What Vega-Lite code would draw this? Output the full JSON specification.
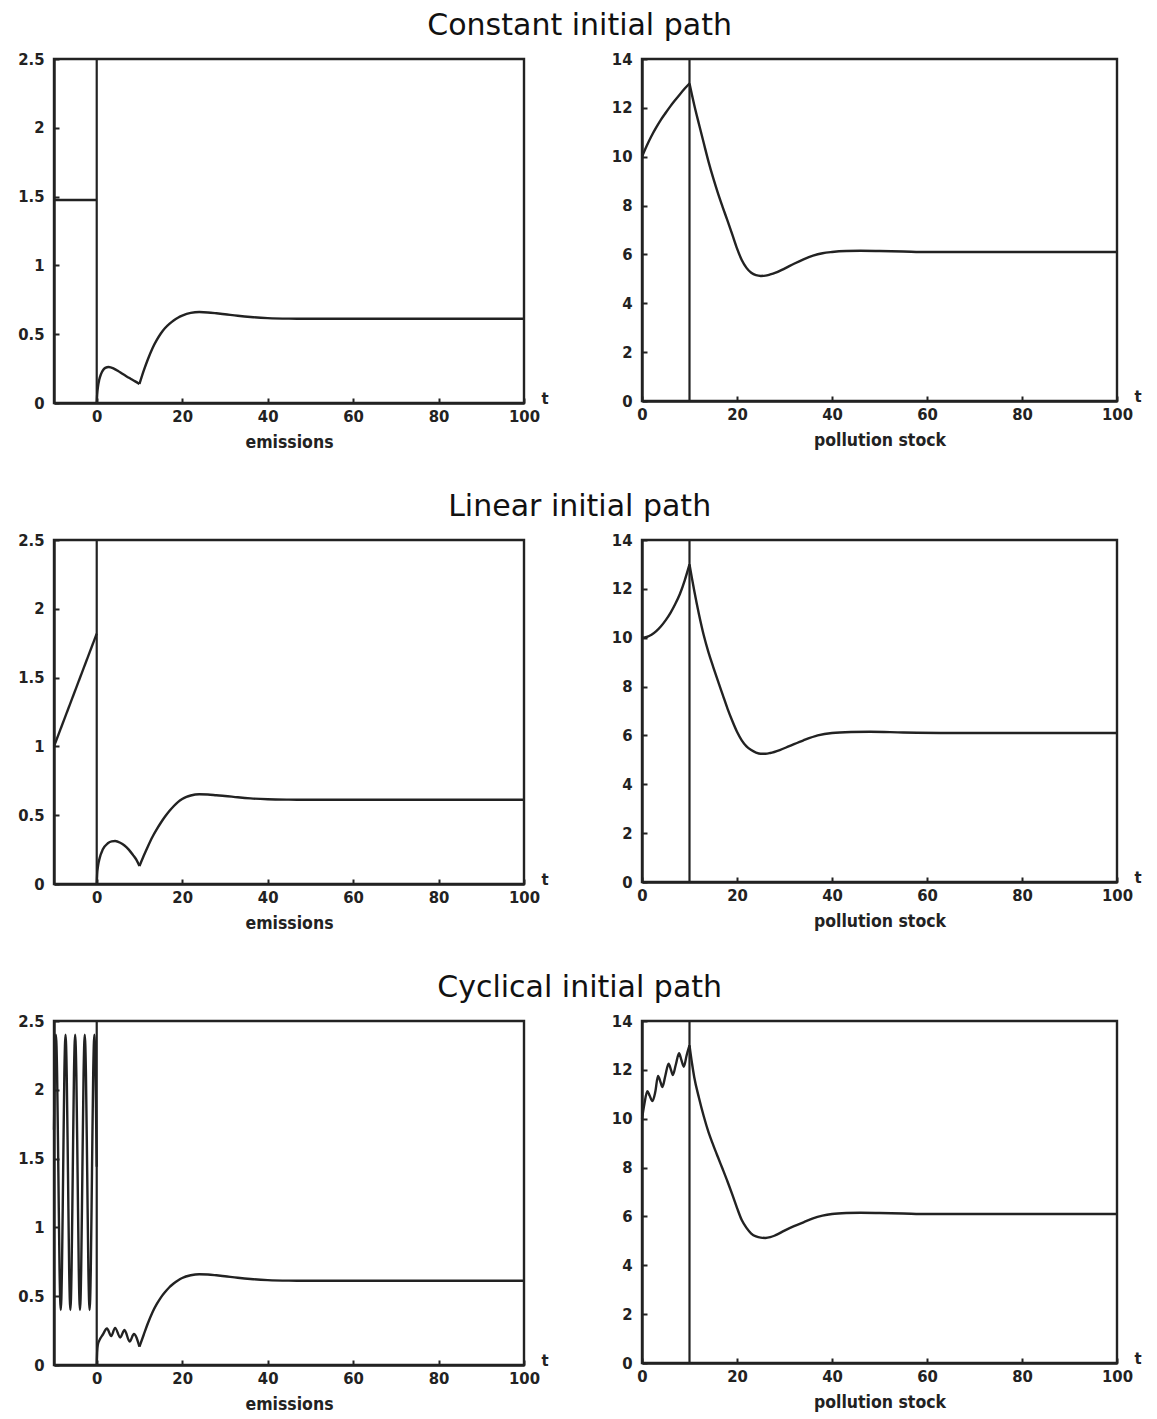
{
  "$schema": "https://vega.github.io/schema/vega-lite/v6.json",
  "background": "white",
  "padding": {"left": 16, "top": 10, "right": 5, "bottom": 5},
  "spacing": 38,
  "config": {
    "view": {"stroke": "#222", "strokeWidth": 2.4},
    "title": {"font": "DejaVu Sans", "fontSize": 30, "fontWeight": "normal", "color": "#111", "anchor": "middle", "offset": 9},
    "axis": {"grid": false, "domainColor": "#222", "domainWidth": 2.4, "tickColor": "#222", "tickWidth": 2, "tickSize": -5,
      "labelFont": "DejaVu Sans Condensed", "labelFontWeight": "bold", "labelFontSize": 16.5, "labelColor": "#222",
      "titleFont": "DejaVu Sans Condensed", "titleFontWeight": "bold", "titleFontSize": 17.5, "titleColor": "#222",
      "titlePadding": 9, "labelFlush": false, "labelOverlap": false, "labelBound": false},
    "axisX": {"labelPadding": 10},
    "axisY": {"labelPadding": 15}
  },
  "datasets": {
    "em1": [
      {"t": -10, "v": 1.475, "s": "A"}, {"t": 0, "v": 1.475, "s": "A"},
      {"t": 0, "v": 0, "s": "B"}, {"t": 0.1, "v": 0.06, "s": "B"}, {"t": 0.3, "v": 0.12, "s": "B"}, {"t": 0.6, "v": 0.17, "s": "B"}, {"t": 1, "v": 0.21, "s": "B"}, {"t": 1.5, "v": 0.24, "s": "B"}, {"t": 2, "v": 0.255, "s": "B"}, {"t": 2.8, "v": 0.262, "s": "B"}, {"t": 4, "v": 0.25, "s": "B"}, {"t": 5, "v": 0.232, "s": "B"}, {"t": 6, "v": 0.212, "s": "B"}, {"t": 7, "v": 0.193, "s": "B"}, {"t": 8, "v": 0.175, "s": "B"}, {"t": 9, "v": 0.157, "s": "B"}, {"t": 10, "v": 0.138, "s": "B"},
      {"t": 10, "v": 0.138, "s": "C"}, {"t": 11, "v": 0.235, "s": "C"}, {"t": 12, "v": 0.32, "s": "C"}, {"t": 13, "v": 0.395, "s": "C"}, {"t": 14, "v": 0.455, "s": "C"}, {"t": 15, "v": 0.505, "s": "C"}, {"t": 16, "v": 0.545, "s": "C"}, {"t": 17, "v": 0.575, "s": "C"}, {"t": 18, "v": 0.6, "s": "C"}, {"t": 19, "v": 0.62, "s": "C"}, {"t": 20, "v": 0.635, "s": "C"}, {"t": 22, "v": 0.655, "s": "C"}, {"t": 24, "v": 0.661, "s": "C"}, {"t": 26, "v": 0.658, "s": "C"}, {"t": 28, "v": 0.652, "s": "C"}, {"t": 30, "v": 0.645, "s": "C"}, {"t": 33, "v": 0.634, "s": "C"}, {"t": 36, "v": 0.625, "s": "C"}, {"t": 40, "v": 0.617, "s": "C"}, {"t": 45, "v": 0.613, "s": "C"}, {"t": 50, "v": 0.612, "s": "C"}, {"t": 60, "v": 0.612, "s": "C"}, {"t": 80, "v": 0.612, "s": "C"}, {"t": 100, "v": 0.612, "s": "C"}
    ],
    "em2": [
      {"t": -10, "v": 1.0, "s": "A"}, {"t": 0, "v": 1.82, "s": "A"},
      {"t": 0, "v": 0, "s": "B"}, {"t": 0.1, "v": 0.07, "s": "B"}, {"t": 0.3, "v": 0.13, "s": "B"}, {"t": 0.7, "v": 0.19, "s": "B"}, {"t": 1.4, "v": 0.25, "s": "B"}, {"t": 2.6, "v": 0.296, "s": "B"}, {"t": 3.5, "v": 0.31, "s": "B"}, {"t": 4.3, "v": 0.312, "s": "B"}, {"t": 5.5, "v": 0.3, "s": "B"}, {"t": 6.5, "v": 0.28, "s": "B"}, {"t": 7.5, "v": 0.25, "s": "B"}, {"t": 8.5, "v": 0.21, "s": "B"}, {"t": 9.3, "v": 0.175, "s": "B"}, {"t": 10, "v": 0.13, "s": "B"},
      {"t": 10, "v": 0.13, "s": "C"}, {"t": 11, "v": 0.205, "s": "C"}, {"t": 12, "v": 0.275, "s": "C"}, {"t": 13, "v": 0.34, "s": "C"}, {"t": 14, "v": 0.395, "s": "C"}, {"t": 15, "v": 0.445, "s": "C"}, {"t": 16, "v": 0.49, "s": "C"}, {"t": 17, "v": 0.53, "s": "C"}, {"t": 18, "v": 0.565, "s": "C"}, {"t": 19, "v": 0.595, "s": "C"}, {"t": 20, "v": 0.617, "s": "C"}, {"t": 21, "v": 0.633, "s": "C"}, {"t": 22, "v": 0.643, "s": "C"}, {"t": 24, "v": 0.652, "s": "C"}, {"t": 26, "v": 0.65, "s": "C"}, {"t": 28, "v": 0.645, "s": "C"}, {"t": 30, "v": 0.64, "s": "C"}, {"t": 33, "v": 0.63, "s": "C"}, {"t": 36, "v": 0.622, "s": "C"}, {"t": 40, "v": 0.616, "s": "C"}, {"t": 45, "v": 0.613, "s": "C"}, {"t": 50, "v": 0.612, "s": "C"}, {"t": 100, "v": 0.612, "s": "C"}
    ],
    "em3": [
      {"t": -10, "v": 1.71, "s": "A"}, {"t": -9.83, "v": 2.11, "s": "A"}, {"t": -9.55, "v": 2.4, "s": "A"}, {"t": -9.27, "v": 2.11, "s": "A"}, {"t": -8.98, "v": 1.4, "s": "A"}, {"t": -8.7, "v": 0.69, "s": "A"}, {"t": -8.42, "v": 0.4, "s": "A"}, {"t": -8.14, "v": 0.69, "s": "A"}, {"t": -7.86, "v": 1.4, "s": "A"}, {"t": -7.58, "v": 2.11, "s": "A"}, {"t": -7.3, "v": 2.4, "s": "A"}, {"t": -7.02, "v": 2.11, "s": "A"}, {"t": -6.73, "v": 1.4, "s": "A"}, {"t": -6.45, "v": 0.69, "s": "A"}, {"t": -6.17, "v": 0.4, "s": "A"}, {"t": -5.89, "v": 0.69, "s": "A"}, {"t": -5.61, "v": 1.4, "s": "A"}, {"t": -5.33, "v": 2.11, "s": "A"}, {"t": -5.05, "v": 2.4, "s": "A"}, {"t": -4.77, "v": 2.11, "s": "A"}, {"t": -4.48, "v": 1.4, "s": "A"}, {"t": -4.2, "v": 0.69, "s": "A"}, {"t": -3.92, "v": 0.4, "s": "A"}, {"t": -3.64, "v": 0.69, "s": "A"}, {"t": -3.36, "v": 1.4, "s": "A"}, {"t": -3.08, "v": 2.11, "s": "A"}, {"t": -2.8, "v": 2.4, "s": "A"}, {"t": -2.52, "v": 2.11, "s": "A"}, {"t": -2.23, "v": 1.4, "s": "A"}, {"t": -1.95, "v": 0.69, "s": "A"}, {"t": -1.67, "v": 0.4, "s": "A"}, {"t": -1.39, "v": 0.69, "s": "A"}, {"t": -1.11, "v": 1.4, "s": "A"}, {"t": -0.83, "v": 2.11, "s": "A"}, {"t": -0.55, "v": 2.4, "s": "A"}, {"t": -0.27, "v": 2.11, "s": "A"}, {"t": 0, "v": 1.44, "s": "A"},
      {"t": 0, "v": 0, "s": "B"}, {"t": 0.1, "v": 0.09, "s": "B"}, {"t": 0.25, "v": 0.145, "s": "B"}, {"t": 0.8, "v": 0.19, "s": "B"}, {"t": 1.4, "v": 0.22, "s": "B"}, {"t": 2.4, "v": 0.265, "s": "B"}, {"t": 3.4, "v": 0.21, "s": "B"}, {"t": 4.3, "v": 0.27, "s": "B"}, {"t": 5.5, "v": 0.2, "s": "B"}, {"t": 6.5, "v": 0.255, "s": "B"}, {"t": 7.7, "v": 0.17, "s": "B"}, {"t": 8.7, "v": 0.225, "s": "B"}, {"t": 10, "v": 0.133, "s": "B"},
      {"t": 10, "v": 0.133, "s": "C"}, {"t": 11, "v": 0.22, "s": "C"}, {"t": 12, "v": 0.305, "s": "C"}, {"t": 13, "v": 0.38, "s": "C"}, {"t": 14, "v": 0.44, "s": "C"}, {"t": 15, "v": 0.49, "s": "C"}, {"t": 16, "v": 0.53, "s": "C"}, {"t": 17, "v": 0.565, "s": "C"}, {"t": 18, "v": 0.592, "s": "C"}, {"t": 19, "v": 0.614, "s": "C"}, {"t": 20, "v": 0.632, "s": "C"}, {"t": 22, "v": 0.652, "s": "C"}, {"t": 24, "v": 0.66, "s": "C"}, {"t": 26, "v": 0.658, "s": "C"}, {"t": 28, "v": 0.652, "s": "C"}, {"t": 30, "v": 0.645, "s": "C"}, {"t": 33, "v": 0.634, "s": "C"}, {"t": 36, "v": 0.625, "s": "C"}, {"t": 40, "v": 0.617, "s": "C"}, {"t": 45, "v": 0.613, "s": "C"}, {"t": 50, "v": 0.612, "s": "C"}, {"t": 100, "v": 0.612, "s": "C"}
    ],
    "po1": [
      {"t": 0, "v": 10.0, "s": "B"}, {"t": 1, "v": 10.45, "s": "B"}, {"t": 2, "v": 10.85, "s": "B"}, {"t": 3, "v": 11.2, "s": "B"}, {"t": 4, "v": 11.52, "s": "B"}, {"t": 5, "v": 11.8, "s": "B"}, {"t": 6, "v": 12.07, "s": "B"}, {"t": 7, "v": 12.32, "s": "B"}, {"t": 8, "v": 12.56, "s": "B"}, {"t": 9, "v": 12.79, "s": "B"}, {"t": 10, "v": 13.0, "s": "B"},
      {"t": 10, "v": 13.0, "s": "C"}, {"t": 10.5, "v": 12.55, "s": "C"}, {"t": 11, "v": 12.12, "s": "C"}, {"t": 12, "v": 11.33, "s": "C"}, {"t": 13, "v": 10.56, "s": "C"}, {"t": 14, "v": 9.8, "s": "C"}, {"t": 15, "v": 9.12, "s": "C"}, {"t": 16, "v": 8.5, "s": "C"}, {"t": 17, "v": 7.93, "s": "C"}, {"t": 18, "v": 7.38, "s": "C"}, {"t": 19, "v": 6.82, "s": "C"}, {"t": 20, "v": 6.25, "s": "C"}, {"t": 21, "v": 5.77, "s": "C"}, {"t": 22, "v": 5.45, "s": "C"}, {"t": 23, "v": 5.25, "s": "C"}, {"t": 24, "v": 5.15, "s": "C"}, {"t": 25, "v": 5.12, "s": "C"}, {"t": 26, "v": 5.13, "s": "C"}, {"t": 27, "v": 5.18, "s": "C"}, {"t": 28, "v": 5.24, "s": "C"}, {"t": 30, "v": 5.42, "s": "C"}, {"t": 32, "v": 5.62, "s": "C"}, {"t": 34, "v": 5.8, "s": "C"}, {"t": 36, "v": 5.95, "s": "C"}, {"t": 38, "v": 6.05, "s": "C"}, {"t": 40, "v": 6.1, "s": "C"}, {"t": 43, "v": 6.14, "s": "C"}, {"t": 46, "v": 6.15, "s": "C"}, {"t": 50, "v": 6.14, "s": "C"}, {"t": 55, "v": 6.12, "s": "C"}, {"t": 60, "v": 6.1, "s": "C"}, {"t": 70, "v": 6.1, "s": "C"}, {"t": 100, "v": 6.1, "s": "C"}
    ],
    "po2": [
      {"t": 0, "v": 10.0, "s": "B"}, {"t": 1, "v": 10.03, "s": "B"}, {"t": 2, "v": 10.12, "s": "B"}, {"t": 3, "v": 10.27, "s": "B"}, {"t": 4, "v": 10.47, "s": "B"}, {"t": 5, "v": 10.72, "s": "B"}, {"t": 6, "v": 11.02, "s": "B"}, {"t": 7, "v": 11.38, "s": "B"}, {"t": 8, "v": 11.8, "s": "B"}, {"t": 9, "v": 12.35, "s": "B"}, {"t": 10, "v": 13.0, "s": "B"},
      {"t": 10, "v": 13.0, "s": "C"}, {"t": 10.5, "v": 12.45, "s": "C"}, {"t": 11, "v": 11.92, "s": "C"}, {"t": 12, "v": 10.95, "s": "C"}, {"t": 13, "v": 10.1, "s": "C"}, {"t": 14, "v": 9.4, "s": "C"}, {"t": 15, "v": 8.8, "s": "C"}, {"t": 16, "v": 8.22, "s": "C"}, {"t": 17, "v": 7.66, "s": "C"}, {"t": 18, "v": 7.1, "s": "C"}, {"t": 19, "v": 6.6, "s": "C"}, {"t": 20, "v": 6.15, "s": "C"}, {"t": 21, "v": 5.8, "s": "C"}, {"t": 22, "v": 5.55, "s": "C"}, {"t": 23, "v": 5.4, "s": "C"}, {"t": 24, "v": 5.3, "s": "C"}, {"t": 25, "v": 5.25, "s": "C"}, {"t": 26, "v": 5.25, "s": "C"}, {"t": 27, "v": 5.28, "s": "C"}, {"t": 29, "v": 5.4, "s": "C"}, {"t": 31, "v": 5.56, "s": "C"}, {"t": 34, "v": 5.8, "s": "C"}, {"t": 37, "v": 6.0, "s": "C"}, {"t": 40, "v": 6.1, "s": "C"}, {"t": 44, "v": 6.14, "s": "C"}, {"t": 48, "v": 6.15, "s": "C"}, {"t": 55, "v": 6.12, "s": "C"}, {"t": 65, "v": 6.1, "s": "C"}, {"t": 100, "v": 6.1, "s": "C"}
    ],
    "po3": [
      {"t": 0, "v": 10.0, "s": "B"}, {"t": 0.5, "v": 10.6, "s": "B"}, {"t": 1.12, "v": 11.13, "s": "B"}, {"t": 1.6, "v": 10.95, "s": "B"}, {"t": 2.2, "v": 10.72, "s": "B"}, {"t": 2.8, "v": 11.1, "s": "B"}, {"t": 3.37, "v": 11.75, "s": "B"}, {"t": 3.9, "v": 11.5, "s": "B"}, {"t": 4.3, "v": 11.3, "s": "B"}, {"t": 4.9, "v": 11.75, "s": "B"}, {"t": 5.6, "v": 12.25, "s": "B"}, {"t": 6.1, "v": 12.0, "s": "B"}, {"t": 6.5, "v": 11.79, "s": "B"}, {"t": 7.1, "v": 12.2, "s": "B"}, {"t": 7.8, "v": 12.68, "s": "B"}, {"t": 8.3, "v": 12.4, "s": "B"}, {"t": 8.8, "v": 12.13, "s": "B"}, {"t": 9.4, "v": 12.6, "s": "B"}, {"t": 10, "v": 13.0, "s": "B"},
      {"t": 10, "v": 13.0, "s": "C"}, {"t": 10.5, "v": 12.3, "s": "C"}, {"t": 11, "v": 11.7, "s": "C"}, {"t": 12, "v": 10.85, "s": "C"}, {"t": 13, "v": 10.1, "s": "C"}, {"t": 14, "v": 9.45, "s": "C"}, {"t": 15, "v": 8.92, "s": "C"}, {"t": 16, "v": 8.42, "s": "C"}, {"t": 17, "v": 7.93, "s": "C"}, {"t": 18, "v": 7.43, "s": "C"}, {"t": 19, "v": 6.9, "s": "C"}, {"t": 20, "v": 6.35, "s": "C"}, {"t": 21, "v": 5.85, "s": "C"}, {"t": 22, "v": 5.53, "s": "C"}, {"t": 23, "v": 5.3, "s": "C"}, {"t": 24, "v": 5.18, "s": "C"}, {"t": 25, "v": 5.13, "s": "C"}, {"t": 26, "v": 5.12, "s": "C"}, {"t": 27, "v": 5.15, "s": "C"}, {"t": 28, "v": 5.22, "s": "C"}, {"t": 30, "v": 5.42, "s": "C"}, {"t": 32, "v": 5.6, "s": "C"}, {"t": 34, "v": 5.76, "s": "C"}, {"t": 36, "v": 5.92, "s": "C"}, {"t": 38, "v": 6.03, "s": "C"}, {"t": 40, "v": 6.1, "s": "C"}, {"t": 43, "v": 6.14, "s": "C"}, {"t": 46, "v": 6.15, "s": "C"}, {"t": 50, "v": 6.14, "s": "C"}, {"t": 55, "v": 6.12, "s": "C"}, {"t": 60, "v": 6.1, "s": "C"}, {"t": 100, "v": 6.1, "s": "C"}
    ],
    "rule0": [{"t": 0}],
    "rule10": [{"t": 10}],
    "tlab": [{"t": 100, "v": 0, "lab": "t"}]
  },
  "vconcat": [
    {
      "title": {"text": "Constant initial path"},
      "bounds": "flush", "spacing": 118,
      "hconcat": [
        {"width": 470, "height": 344, "layer": [
          {"data": {"name": "em1"}, "mark": {"type": "line", "interpolate": "monotone", "stroke": "#222", "strokeWidth": 2.4},
           "encoding": {"x": {"field": "t", "type": "quantitative", "scale": {"domain": [-10, 100], "nice": false, "zero": false}, "axis": {"values": [0, 20, 40, 60, 80, 100], "title": "emissions"}},
                        "y": {"field": "v", "type": "quantitative", "scale": {"domain": [0, 2.5], "nice": false}, "axis": {"values": [0, 0.5, 1, 1.5, 2, 2.5], "format": "~g", "title": null}},
                        "detail": {"field": "s"}}},
          {"data": {"name": "rule0"}, "mark": {"type": "rule", "stroke": "#222", "strokeWidth": 2.2}, "encoding": {"x": {"field": "t", "type": "quantitative"}}},
          {"data": {"name": "tlab"}, "mark": {"type": "text", "dx": 21, "dy": -4, "font": "DejaVu Sans Condensed", "fontWeight": "bold", "fontSize": 16.5, "color": "#222"},
           "encoding": {"x": {"field": "t", "type": "quantitative"}, "y": {"field": "v", "type": "quantitative"}, "text": {"field": "lab"}}}
        ]},
        {"width": 475, "height": 342, "layer": [
          {"data": {"name": "po1"}, "mark": {"type": "line", "interpolate": "monotone", "stroke": "#222", "strokeWidth": 2.4},
           "encoding": {"x": {"field": "t", "type": "quantitative", "scale": {"domain": [0, 100], "nice": false}, "axis": {"values": [0, 20, 40, 60, 80, 100], "title": "pollution stock"}},
                        "y": {"field": "v", "type": "quantitative", "scale": {"domain": [0, 14], "nice": false}, "axis": {"values": [0, 2, 4, 6, 8, 10, 12, 14], "title": null}},
                        "detail": {"field": "s"}}},
          {"data": {"name": "rule10"}, "mark": {"type": "rule", "stroke": "#222", "strokeWidth": 2.2}, "encoding": {"x": {"field": "t", "type": "quantitative"}}},
          {"data": {"name": "tlab"}, "mark": {"type": "text", "dx": 21, "dy": -4, "font": "DejaVu Sans Condensed", "fontWeight": "bold", "fontSize": 16.5, "color": "#222"},
           "encoding": {"x": {"field": "t", "type": "quantitative"}, "y": {"field": "v", "type": "quantitative"}, "text": {"field": "lab"}}}
        ]}
      ]
    },
    {
      "title": {"text": "Linear initial path"},
      "bounds": "flush", "spacing": 118,
      "hconcat": [
        {"width": 470, "height": 344, "layer": [
          {"data": {"name": "em2"}, "mark": {"type": "line", "interpolate": "monotone", "stroke": "#222", "strokeWidth": 2.4},
           "encoding": {"x": {"field": "t", "type": "quantitative", "scale": {"domain": [-10, 100], "nice": false, "zero": false}, "axis": {"values": [0, 20, 40, 60, 80, 100], "title": "emissions"}},
                        "y": {"field": "v", "type": "quantitative", "scale": {"domain": [0, 2.5], "nice": false}, "axis": {"values": [0, 0.5, 1, 1.5, 2, 2.5], "format": "~g", "title": null}},
                        "detail": {"field": "s"}}},
          {"data": {"name": "rule0"}, "mark": {"type": "rule", "stroke": "#222", "strokeWidth": 2.2}, "encoding": {"x": {"field": "t", "type": "quantitative"}}},
          {"data": {"name": "tlab"}, "mark": {"type": "text", "dx": 21, "dy": -4, "font": "DejaVu Sans Condensed", "fontWeight": "bold", "fontSize": 16.5, "color": "#222"},
           "encoding": {"x": {"field": "t", "type": "quantitative"}, "y": {"field": "v", "type": "quantitative"}, "text": {"field": "lab"}}}
        ]},
        {"width": 475, "height": 342, "layer": [
          {"data": {"name": "po2"}, "mark": {"type": "line", "interpolate": "monotone", "stroke": "#222", "strokeWidth": 2.4},
           "encoding": {"x": {"field": "t", "type": "quantitative", "scale": {"domain": [0, 100], "nice": false}, "axis": {"values": [0, 20, 40, 60, 80, 100], "title": "pollution stock"}},
                        "y": {"field": "v", "type": "quantitative", "scale": {"domain": [0, 14], "nice": false}, "axis": {"values": [0, 2, 4, 6, 8, 10, 12, 14], "title": null}},
                        "detail": {"field": "s"}}},
          {"data": {"name": "rule10"}, "mark": {"type": "rule", "stroke": "#222", "strokeWidth": 2.2}, "encoding": {"x": {"field": "t", "type": "quantitative"}}},
          {"data": {"name": "tlab"}, "mark": {"type": "text", "dx": 21, "dy": -4, "font": "DejaVu Sans Condensed", "fontWeight": "bold", "fontSize": 16.5, "color": "#222"},
           "encoding": {"x": {"field": "t", "type": "quantitative"}, "y": {"field": "v", "type": "quantitative"}, "text": {"field": "lab"}}}
        ]}
      ]
    },
    {
      "title": {"text": "Cyclical initial path"},
      "bounds": "flush", "spacing": 118,
      "hconcat": [
        {"width": 470, "height": 344, "layer": [
          {"data": {"name": "em3"}, "mark": {"type": "line", "interpolate": "monotone", "stroke": "#222", "strokeWidth": 2.4},
           "encoding": {"x": {"field": "t", "type": "quantitative", "scale": {"domain": [-10, 100], "nice": false, "zero": false}, "axis": {"values": [0, 20, 40, 60, 80, 100], "title": "emissions"}},
                        "y": {"field": "v", "type": "quantitative", "scale": {"domain": [0, 2.5], "nice": false}, "axis": {"values": [0, 0.5, 1, 1.5, 2, 2.5], "format": "~g", "title": null}},
                        "detail": {"field": "s"}}},
          {"data": {"name": "rule0"}, "mark": {"type": "rule", "stroke": "#222", "strokeWidth": 2.2}, "encoding": {"x": {"field": "t", "type": "quantitative"}}},
          {"data": {"name": "tlab"}, "mark": {"type": "text", "dx": 21, "dy": -4, "font": "DejaVu Sans Condensed", "fontWeight": "bold", "fontSize": 16.5, "color": "#222"},
           "encoding": {"x": {"field": "t", "type": "quantitative"}, "y": {"field": "v", "type": "quantitative"}, "text": {"field": "lab"}}}
        ]},
        {"width": 475, "height": 342, "layer": [
          {"data": {"name": "po3"}, "mark": {"type": "line", "interpolate": "monotone", "stroke": "#222", "strokeWidth": 2.4},
           "encoding": {"x": {"field": "t", "type": "quantitative", "scale": {"domain": [0, 100], "nice": false}, "axis": {"values": [0, 20, 40, 60, 80, 100], "title": "pollution stock"}},
                        "y": {"field": "v", "type": "quantitative", "scale": {"domain": [0, 14], "nice": false}, "axis": {"values": [0, 2, 4, 6, 8, 10, 12, 14], "title": null}},
                        "detail": {"field": "s"}}},
          {"data": {"name": "rule10"}, "mark": {"type": "rule", "stroke": "#222", "strokeWidth": 2.2}, "encoding": {"x": {"field": "t", "type": "quantitative"}}},
          {"data": {"name": "tlab"}, "mark": {"type": "text", "dx": 21, "dy": -4, "font": "DejaVu Sans Condensed", "fontWeight": "bold", "fontSize": 16.5, "color": "#222"},
           "encoding": {"x": {"field": "t", "type": "quantitative"}, "y": {"field": "v", "type": "quantitative"}, "text": {"field": "lab"}}}
        ]}
      ]
    }
  ]
}
